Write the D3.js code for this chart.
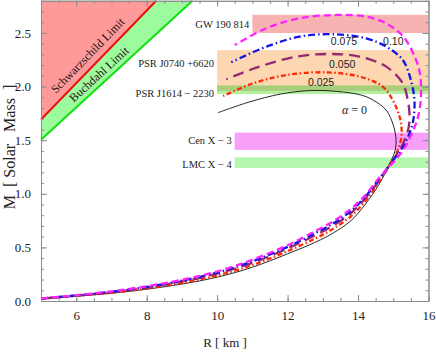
<!DOCTYPE html>
<html>
<head>
<meta charset="utf-8">
<script src="https://cdn.jsdelivr.net/npm/d3@7/dist/d3.min.js"></script>
<style>
  body { margin: 0; background: #fff; }
  svg { display: block; }
  .serif { font-family: "Liberation Serif", "Times New Roman", serif; }
  .sans { font-family: "Liberation Sans", Arial, sans-serif; }
</style>
</head>
<body>
<svg width="436" height="354"></svg>
<script>
// axis ticks
const xTicks = [6, 8, 10, 12, 14, 16];
const yTicks = [0, 0.5, 1.0, 1.5, 2.0, 2.5];

// limit lines, [R km, M sun] end points
const schwarzschildLine = [[5, 1.693], [8.27, 2.8]];
const buchdahlLine = [[5, 1.505], [9.30, 2.8]];

// observational mass bands
const bandNames = ["GW 190 814", "PSR J0740 +6620", "PSR J1614 \u2212 2230", "Cen X \u2212 3", "LMC X \u2212 4"];
const bandLow = [2.50, 1.96, 1.93, 1.41, 1.24];
const bandHigh = [2.67, 2.34, 2.01, 1.57, 1.34];
const bandStartR = [11.0, 10.0, 10.0, 10.5, 10.5];
const bandColors = ["#f7b2b2", "#fdd6b2", "#b4f0a0", "#f99ef9", "#b4f8b0"];

// mass-radius curves for each alpha
const curveLabels = ["\u03b1 = 0", "0.025", "0.050", "0.075", "0.10"];
const alpha0 = [[5,0.02],[6,0.045],[7,0.072],[8,0.11],[9,0.158],[10,0.222],[11,0.315],[12,0.44],[12.8,0.55],[13.3,0.635],[13.8,0.75],[14.2,0.9],[14.6,1.09],[14.88,1.27],[15.04,1.39],[15.08,1.5],[15.0,1.64],[14.8,1.78],[14.45,1.87],[14.1,1.92],[13.4,1.955],[12.6,1.962],[11.8,1.93],[10.9,1.855],[10.03,1.757]];
const alpha025 = [[5,0.021],[6,0.048],[7,0.077],[8,0.118],[9,0.17],[10,0.238],[11,0.335],[12,0.465],[12.8,0.585],[13.3,0.675],[13.8,0.79],[14.2,0.93],[14.6,1.11],[14.9,1.27],[15.12,1.4],[15.23,1.53],[15.23,1.63],[15.16,1.74],[14.99,1.87],[14.7,2.0],[14.04,2.093],[13.1,2.133],[11.97,2.108],[11.02,2.03],[10.17,1.912]];
const alpha050 = [[5,0.022],[6,0.05],[7,0.082],[8,0.126],[9,0.182],[10,0.255],[11,0.355],[12,0.49],[12.8,0.615],[13.3,0.705],[13.8,0.82],[14.2,0.955],[14.6,1.125],[14.9,1.27],[15.15,1.39],[15.32,1.5],[15.44,1.626],[15.46,1.75],[15.41,1.875],[15.27,2.03],[14.8,2.186],[14.04,2.279],[13.19,2.304],[12.25,2.279],[11.2,2.186],[10.26,2.068]];
const alpha075 = [[5,0.023],[6,0.052],[7,0.086],[8,0.132],[9,0.19],[10,0.265],[11,0.37],[12,0.505],[12.8,0.635],[13.3,0.725],[13.8,0.84],[14.2,0.97],[14.6,1.14],[14.9,1.27],[15.1,1.36],[15.3,1.45],[15.46,1.564],[15.57,1.69],[15.6,1.875],[15.5,2.06],[15.27,2.248],[14.8,2.372],[14.23,2.45],[13.29,2.488],[12.34,2.466],[11.4,2.372],[10.4,2.227]];
const alpha10 = [[5,0.024],[6,0.054],[7,0.09],[8,0.138],[9,0.198],[10,0.275],[11,0.385],[12,0.52],[12.8,0.655],[13.3,0.745],[13.8,0.86],[14.2,0.985],[14.6,1.15],[14.94,1.27],[15.15,1.35],[15.34,1.44],[15.53,1.564],[15.68,1.69],[15.77,1.84],[15.79,1.97],[15.76,2.12],[15.62,2.27],[15.3,2.46],[14.8,2.59],[14.23,2.652],[13.38,2.668],[12.34,2.637],[11.4,2.544],[10.5,2.388]];
const curveData = [alpha0, alpha025, alpha050, alpha075, alpha10];
const curveColors = ["#111111", "#ff2a00", "#952a72", "#1515e6", "#ff22ff"];
// where each curve label sits, [R, M]
const labelPos = [[13.9, 1.78], [12.95, 2.04], [13.55, 2.205], [13.6, 2.42], [15.0, 2.42]];

const svg = d3.select("svg");
const xScale = d3.scaleLinear().domain([5, 16]).range([41, 428.5]);
const yScale = d3.scaleLinear().domain([0, 2.8]).range([301, 0.8]);

const plot = svg.append("g");

// limit regions
const areaAbove = d3.area()
    .x(d => xScale(d[0]))
    .y0(yScale(2.8))
    .y1(d => yScale(d[1]));
const line = d3.line().x(d => xScale(d[0])).y(d => yScale(d[1]));

plot.append("path").datum(buchdahlLine)
    .attr("d", areaAbove).attr("fill", "#9cfb9c");
plot.append("path").datum(schwarzschildLine)
    .attr("d", areaAbove).attr("fill", "#ff9a9a");
plot.append("path").datum(buchdahlLine)
    .attr("d", line).attr("fill", "none").attr("stroke", "#10e010").attr("stroke-width", 2);
plot.append("path").datum(schwarzschildLine)
    .attr("d", line).attr("fill", "none").attr("stroke", "#e81010").attr("stroke-width", 2);

function lineText(pts, atR, off, txt) {
  const x1 = xScale(pts[0][0]), y1 = yScale(pts[0][1]);
  const x2 = xScale(pts[1][0]), y2 = yScale(pts[1][1]);
  const ang = Math.atan2(y2 - y1, x2 - x1) * 180 / Math.PI;
  const t = (atR - pts[0][0]) / (pts[1][0] - pts[0][0]);
  const px = x1 + t * (x2 - x1), py = y1 + t * (y2 - y1);
  plot.append("text").attr("class", "serif")
      .attr("transform", `translate(${px},${py}) rotate(${ang})`)
      .attr("y", -off)
      .attr("text-anchor", "middle")
      .attr("font-size", 12)
      .attr("fill", "#2a1515")
      .text(txt);
}
lineText(schwarzschildLine, 6.55, 7, "Schwarzschild Limit");
lineText(buchdahlLine, 6.82, 5, "Buchdahl Limit");

// bands
bandNames.forEach((name, i) => {
  plot.append("rect")
      .attr("x", xScale(bandStartR[i]))
      .attr("y", yScale(bandHigh[i]))
      .attr("width", xScale(16) - xScale(bandStartR[i]))
      .attr("height", yScale(bandLow[i]) - yScale(bandHigh[i]))
      .attr("fill", bandColors[i]);
});
// overlap of the two pulsar bands
const ovLow = Math.max(bandLow[1], bandLow[2]);
const ovHigh = Math.min(bandHigh[1], bandHigh[2]);
plot.append("rect")
    .attr("x", xScale(Math.max(bandStartR[1], bandStartR[2])))
    .attr("y", yScale(ovHigh))
    .attr("width", xScale(16) - xScale(Math.max(bandStartR[1], bandStartR[2])))
    .attr("height", yScale(ovLow) - yScale(ovHigh))
    .attr("fill", "#a9cd7a");

const labelShift = [0, 7, -4, 1, -2];
bandNames.forEach((name, i) => {
  plot.append("text").attr("class", "serif")
      .attr("x", xScale(bandStartR[i]) - 3)
      .attr("y", yScale((bandLow[i] + bandHigh[i]) / 2) - labelShift[i])
      .attr("dy", "0.35em")
      .attr("text-anchor", "end")
      .attr("font-size", 10.5)
      .attr("fill", "#222")
      .text(name);
});

// curves
const curveLine = d3.line()
    .x(d => xScale(d[0])).y(d => yScale(d[1]))
    .curve(d3.curveCatmullRom.alpha(0.5));
const dashes = [null, "5,2.5,1.5,2.5", "11,6", "7,3,1.5,3", "7,4"];
curveData.forEach((pts, i) => {
  plot.append("path").datum(pts)
      .attr("d", curveLine)
      .attr("fill", "none")
      .attr("stroke", curveColors[i])
      .attr("stroke-width", i === 0 ? 0.9 : 2.3)
      .attr("stroke-dasharray", dashes[i]);
});

curveLabels.forEach((lab, i) => {
  const tx = plot.append("text")
      .attr("class", i === 0 ? "serif" : "sans")
      .attr("x", xScale(labelPos[i][0]))
      .attr("y", yScale(labelPos[i][1]))
      .attr("dy", "0.35em")
      .attr("text-anchor", "middle")
      .attr("font-size", i === 0 ? 12 : 10.5)
      .attr("fill", "#222");
  if (i === 0) {
    tx.append("tspan").attr("font-style", "italic").text("\u03b1");
    tx.append("tspan").text(" = 0");
  } else {
    tx.text(lab);
  }
});

// frame with ticks on all sides
const frameColor = "#8c8c8c";
const xMinor = d3.range(5, 16.01, 0.5);
const yMinor = d3.range(0, 2.801, 0.1);
function styleAxis(g) {
  g.select(".domain").attr("stroke", frameColor);
  g.selectAll(".tick line").attr("stroke", frameColor);
  g.selectAll(".tick text").attr("class", "serif").attr("font-size", 13).attr("fill", "#222");
}
const axes = [
  [d3.axisBottom(xScale), `translate(0,${yScale(0)})`, xTicks, xMinor],
  [d3.axisTop(xScale), `translate(0,${yScale(2.8)})`, xTicks, xMinor],
  [d3.axisLeft(yScale), `translate(${xScale(5)},0)`, yTicks, yMinor],
  [d3.axisRight(yScale), `translate(${xScale(16)},0)`, yTicks, yMinor]
];
axes.forEach(([ax, tr, major, minor], k) => {
  svg.append("g").attr("transform", tr)
     .call(ax.tickValues(minor).tickSize(-3).tickSizeOuter(0).tickFormat(""))
     .call(styleAxis);
  svg.append("g").attr("transform", tr)
     .call(ax.tickValues(major).tickSize(-6).tickSizeOuter(0).tickPadding(10)
           .tickFormat(k === 0 ? d3.format("d") : (k === 2 ? d3.format(".1f") : "")))
     .call(styleAxis);
});

// axis titles
svg.append("text").attr("class", "serif")
    .attr("x", 225).attr("y", 347)
    .attr("text-anchor", "middle")
    .attr("font-size", 13)
    .attr("fill", "#222")
    .style("white-space", "pre")
    .text("R [ km ]");
svg.append("text").attr("class", "serif")
    .attr("transform", "translate(15,147) rotate(-90)")
    .attr("text-anchor", "middle")
    .attr("font-size", 16)
    .attr("fill", "#222")
    .style("white-space", "pre")
    .text("M  [ Solar   Mass  ]");
</script>
</body>
</html>
